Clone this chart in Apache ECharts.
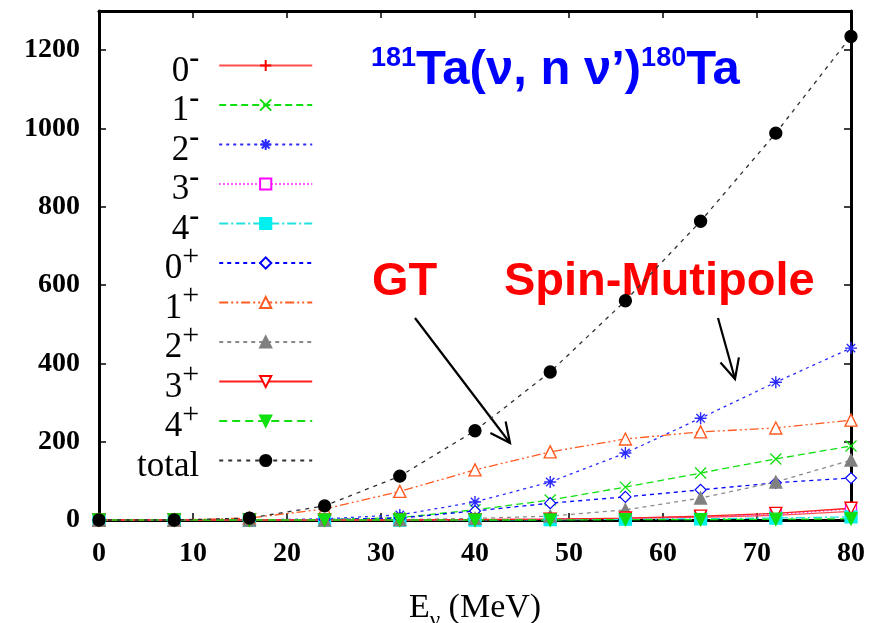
<!DOCTYPE html>
<html>
<head>
<meta charset="utf-8">
<script src="https://cdn.jsdelivr.net/npm/echarts@6/dist/echarts.min.js"></script>
<style>
html, body { margin: 0; padding: 0; background: #fff; }
#chart { width: 875px; height: 623px; }
</style>
</head>
<body>
<div id="chart"></div>
<script>
// neutrino energies (MeV)
var energies = [0, 8, 16, 24, 32, 40, 48, 56, 64, 72, 80];
// cross sections for each multipole
var m0 = [0, 0, 0, 0, 0, 1, 2, 4, 7, 12, 22];
var m1 = [0, 0, 0, 1, 6, 26, 51, 84, 120, 156, 189];
var m2 = [0, 0, 0, 3, 13, 46, 97, 171, 260, 352, 439];
var m3 = [0, 0, 0, 0, 0, 1, 2, 4, 9, 14, 28];
var m4 = [0, 0, 0, 0, 0, 0, 1, 2, 3, 5, 8];
var p0 = [0, 0, 0, 1, 5, 23, 43, 59, 77, 95, 107];
var p1 = [0, 0, 5, 28, 73, 128, 174, 207, 225, 235, 255];
var p2 = [0, 0, 0, 0, 1, 4, 10, 26, 56, 97, 153];
var p3 = [0, 0, 0, 0, 0, 1, 2, 5, 10, 17, 30];
var p4 = [0, 0, 0, 0, 0, 0, 0, 1, 1, 2, 3];
var total = [0, 0, 5, 36, 112, 228, 378, 560, 763, 988, 1235];
var yTicks = [0, 200, 400, 600, 800, 1000, 1200];

var plusPath = 'path://M5,0L5,10M0,5L10,5';
var crossPath = 'path://M0,0L10,10M10,0L0,10';
var starPath = 'path://M5,0L5,10M0,5L10,5M1.5,1.5L8.5,8.5M8.5,1.5L1.5,8.5';

function pairs(vals) {
    return energies.map(function (e, i) { return [e, vals[i]]; });
}

function mk(name, vals, opt) {
    return {
        name: name,
        type: 'line',
        data: pairs(vals),
        clip: false,
        symbol: opt.symbol,
        symbolSize: opt.size,
        symbolRotate: opt.rotate || 0,
        showAllSymbol: true,
        lineStyle: { color: opt.line, width: opt.lw || 1.3, type: opt.dash },
        itemStyle: { color: opt.fill, borderColor: opt.stroke, borderWidth: opt.bw || 1.3 },
        emphasis: { disabled: true },
        z: opt.z || 2
    };
}

var series = [
    mk('{b|0}{m|-}', m0, { symbol: plusPath, size: 12, line: '#ff5050', fill: '#ff0000', stroke: '#ff0000', dash: 'solid', bw: 1.5 }),
    mk('{b|1}{m|-}', m1, { symbol: crossPath, size: 11, line: '#10e010', fill: '#10e010', stroke: '#10e010', dash: [7, 4], bw: 1.3 }),
    mk('{b|2}{m|-}', m2, { symbol: starPath, size: 12, line: '#2a2aff', fill: '#2a2aff', stroke: '#2a2aff', dash: [3, 4], bw: 1.4 }),
    mk('{b|3}{m|-}', m3, { symbol: 'rect', size: 11, line: '#ff30ff', fill: '#ffffff', stroke: '#ff00ff', dash: [1.5, 2.5], bw: 1.3 }),
    mk('{b|4}{m|-}', m4, { symbol: 'rect', size: 12, line: '#20e0e0', fill: '#00f0f0', stroke: '#00f0f0', dash: [9, 3, 2, 3] }),
    mk('{b|0}{p|+}', p0, { symbol: 'diamond', size: 11, line: '#0000ff', fill: '#ffffff', stroke: '#0000ff', dash: [4, 4], bw: 1.2 }),
    mk('{b|1}{p|+}', p1, { symbol: 'triangle', size: 12, line: '#ff5a20', fill: '#ffffff', stroke: '#ff5a20', dash: [9, 3, 2, 3, 2, 3], bw: 1.4 }),
    mk('{b|2}{p|+}', p2, { symbol: 'triangle', size: 12, line: '#8a8a8a', fill: '#808080', stroke: '#808080', dash: [4, 4] }),
    mk('{b|3}{p|+}', p3, { symbol: 'triangle', size: 12, rotate: 180, line: '#ff2020', fill: '#ffffff', stroke: '#ff0000', dash: 'solid', bw: 1.4 }),
    mk('{b|4}{p|+}', p4, { symbol: 'triangle', size: 12, rotate: 180, line: '#10e010', fill: '#10e010', stroke: '#10e010', dash: [8, 5] }),
    mk('{b|total}{p|\u200b}', total, { symbol: 'circle', size: 12, line: '#303030', fill: '#000000', stroke: '#000000', dash: [4, 5], z: 3 })
];

function arrow(x1, y1, x2, y2, head) {
    var a = Math.atan2(y2 - y1, x2 - x1);
    var s = 0.45;
    return [
        { type: 'line', shape: { x1: x1, y1: y1, x2: x2, y2: y2 }, style: { stroke: '#000', lineWidth: 2.2 } },
        { type: 'polyline', shape: { points: [
            [x2 - head * Math.cos(a - s), y2 - head * Math.sin(a - s)],
            [x2, y2],
            [x2 - head * Math.cos(a + s), y2 - head * Math.sin(a + s)]
        ] }, style: { stroke: '#000', lineWidth: 2.2, fill: null } }
    ];
}

var axisFont = { fontFamily: 'Liberation Serif', fontWeight: 'bold', fontSize: 28, color: '#000' };
var serif = 'Liberation Serif';

var option = {
    animation: false,
    backgroundColor: '#fff',
    grid: { left: 99, right: 24, top: 11, bottom: 103, show: false, outerBoundsMode: 'none', containLabel: false },
    legend: {
        orient: 'vertical',
        left: 132,
        top: 39.5,
        align: 'right',
        itemWidth: 93,
        itemHeight: 14,
        itemGap: -14.5,
        selectedMode: false,
        data: series.map(function (s) { return s.name; }),
        textStyle: {
            width: 70,
            align: 'right',
            padding: [12, 15, 0, 0],
            fontFamily: serif,
            fontSize: 35,
            color: '#000',
            rich: {
                b: { fontFamily: serif, fontSize: 35, lineHeight: 34, color: '#000' },
                m: { fontFamily: serif, fontSize: 30, lineHeight: 10, padding: [0, 0, 24, 0], fontWeight: 'bold', color: '#000' },
                p: { fontFamily: serif, fontSize: 30, lineHeight: 10, padding: [0, 0, 24, 0], color: '#000' }
            }
        }
    },
    xAxis: [{
        type: 'value', min: 0, max: 80, interval: 10,
        name: '{a|E}{s|ν}{a| (MeV)}', nameLocation: 'middle', nameGap: 70,
        nameTextStyle: {
            rich: {
                a: { fontFamily: serif, fontSize: 34, color: '#000', lineHeight: 36 },
                s: { fontFamily: serif, fontSize: 23, color: '#000', verticalAlign: 'bottom', lineHeight: 22, padding: [0, 0, -6, 0] }
            }
        },
        axisLine: { onZero: false, lineStyle: { color: '#000', width: 3 } },
        axisTick: { inside: true, length: 7, lineStyle: { color: '#000', width: 1.5 } },
        axisLabel: Object.assign({ margin: 20 }, axisFont),
        splitLine: { show: false }
    }, {
        type: 'value', min: 0, max: 80, interval: 10, position: 'top',
        axisLine: { show: true, onZero: false, lineStyle: { color: '#000', width: 3 } },
        axisTick: { inside: true, length: 7, lineStyle: { color: '#000', width: 1.5 } },
        axisLabel: { show: false },
        splitLine: { show: false }
    }],
    yAxis: [{
        type: 'value', min: 0, max: 1300, interval: 200,
        axisLine: { show: true, onZero: false, lineStyle: { color: '#000', width: 3 } },
        axisTick: { show: true, inside: true, length: 7, lineStyle: { color: '#000', width: 1.5 } },
        axisLabel: Object.assign({
            margin: 19,
            showMaxLabel: false,
            formatter: function (v) { return yTicks.indexOf(v) >= 0 ? String(v) : ''; }
        }, axisFont),
        splitLine: { show: false }
    }, {
        type: 'value', min: 0, max: 1300, interval: 200, position: 'right',
        axisLine: { show: true, onZero: false, lineStyle: { color: '#000', width: 3 } },
        axisTick: { show: true, inside: true, length: 7, lineStyle: { color: '#000', width: 1.5 } },
        axisLabel: { show: false },
        splitLine: { show: false }
    }],
    graphic: [
        {
            type: 'text', left: 371, top: 45, silent: true,
            style: {
                text: '{s|181}{t|Ta(ν, n ν’)}{s|180}{t|Ta}',
                rich: {
                    t: { fontFamily: 'Liberation Sans', fontWeight: 'bold', fontSize: 49, lineHeight: 50, fill: '#0000ff' },
                    s: { fontFamily: 'Liberation Sans', fontWeight: 'bold', fontSize: 27, lineHeight: 26, verticalAlign: 'top', fill: '#0000ff' }
                }
            }
        },
        {
            type: 'text', left: 372, top: 259, silent: true,
            style: { text: 'GT', fontFamily: 'Liberation Sans', fontWeight: 'bold', fontSize: 47, fill: '#ff0000' }
        },
        {
            type: 'text', left: 504, top: 259, silent: true,
            style: { text: 'Spin-Mutipole', fontFamily: 'Liberation Sans', fontWeight: 'bold', fontSize: 47, fill: '#ff0000' }
        }
    ].concat(arrow(415, 318, 510, 443, 22)).concat(arrow(718, 318, 735, 379, 22)),
    series: series
};

var chart = echarts.init(document.getElementById('chart'), null, { renderer: 'canvas' });
chart.setOption(option);
</script>
</body>
</html>
